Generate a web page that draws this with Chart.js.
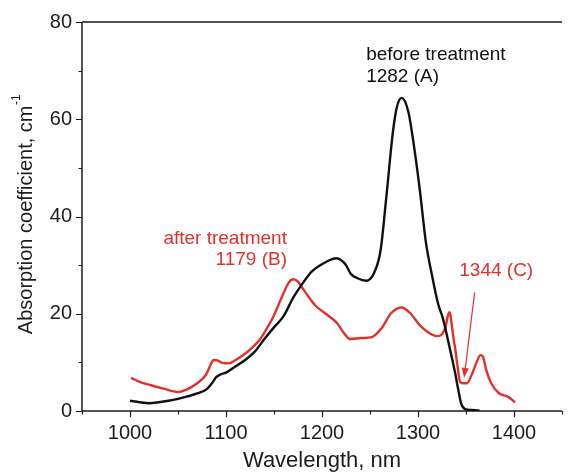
<!DOCTYPE html>
<html>
<head>
<meta charset="utf-8">
<script src="https://cdn.jsdelivr.net/npm/chart.js@4.4.0/dist/chart.umd.min.js"></script>
<style>
  html, body { margin: 0; padding: 0; background: #fff; }
  #wrap { width: 572px; height: 474px; }
</style>
</head>
<body>
<div id="wrap"><canvas id="spectra" width="572" height="474"></canvas></div>
<script>
// absorption spectra, wavelength in nm / coefficient in cm-1
const beforeNm = [1000, 1010, 1020, 1030, 1040, 1050, 1060, 1070, 1080, 1085, 1090, 1095, 1100, 1110, 1120, 1130, 1140, 1150, 1160, 1170, 1180, 1190, 1200, 1210, 1215, 1220, 1225, 1230, 1237, 1246, 1254, 1261, 1267, 1274, 1278, 1283, 1290, 1295, 1302, 1308, 1315, 1321, 1326, 1333, 1339, 1342, 1345, 1349, 1356, 1364];
const beforeVal = [2.1, 1.8, 1.6, 1.8, 2.1, 2.5, 3.0, 3.6, 4.5, 5.6, 7.0, 7.6, 7.9, 9.2, 10.5, 12.2, 14.8, 17.2, 19.5, 23.3, 26.3, 28.8, 30.2, 31.2, 31.4, 31.0, 30.0, 28.2, 27.3, 26.8, 28.3, 33.0, 44.0, 57.6, 62.5, 64.4, 61.5, 55.6, 45.3, 35.0, 27.5, 22.0, 19.0, 13.0, 7.5, 4.3, 1.5, 0.4, 0.2, 0.1];

const afterNm = [1001, 1010, 1022, 1035, 1050, 1060, 1070, 1079, 1084, 1087, 1091, 1096, 1103, 1110, 1118, 1127, 1135, 1142, 1149, 1159, 1165, 1170, 1175, 1180, 1186, 1193, 1206, 1216, 1223, 1229, 1241, 1252, 1262, 1272, 1283, 1292, 1302, 1312, 1320, 1325, 1329, 1331, 1333, 1335, 1337, 1339, 1341, 1344, 1348, 1351, 1356, 1361, 1365, 1368, 1371, 1376, 1384, 1394, 1401];
const afterVal = [6.8, 6.0, 5.3, 4.6, 3.9, 4.5, 5.7, 7.4, 9.5, 10.5, 10.4, 9.9, 9.8, 10.5, 11.5, 13.0, 14.6, 16.8, 19.3, 23.8, 26.3, 27.1, 26.6, 25.2, 23.5, 21.7, 19.7, 18.0, 16.0, 14.8, 15.0, 15.2, 17.0, 20.1, 21.3, 20.1, 17.6, 16.0, 15.4, 15.8, 17.5, 19.5, 20.3, 18.0, 15.0, 12.5, 9.5, 5.9, 5.7, 5.7, 7.5, 10.0, 11.5, 11.0, 8.5, 5.8, 3.7, 2.9, 1.8];

const xRange = [950, 1450];
const yRange = [0, 80];

// labels placed in data units
const notes = [
    { text: 'before treatment', x: 1246, y: 73.2, align: 'left', color: 'black' },
    { text: '1282 (A)', x: 1246, y: 68.7, align: 'left', color: 'black' },
    { text: 'after treatment', x: 1163.5, y: 35.5, align: 'right', color: 'red' },
    { text: '1179 (B)', x: 1163.5, y: 31.0, align: 'right', color: 'red' },
    { text: '1344 (C)', x: 1343, y: 28.9, align: 'left', color: 'red' }
];
const arrowC = { from: [1359, 24.4], to: [1348, 6.8] };

const COLORS = { black: '#111111', red: '#e5302a', text: '#1c1c1c' };
const FONT = "'Liberation Sans', Arial, Helvetica, sans-serif";

function toPoints(xs, ys) {
    return xs.map((x, i) => ({ x: x, y: ys[i] }));
}

const axesPlugin = {
    id: 'axesPlugin',
    beforeDatasetsDraw(chart) {
        const { ctx, chartArea: a, scales } = chart;
        ctx.save();
        ctx.strokeStyle = COLORS.text;
        ctx.lineWidth = 1.5;
        ctx.beginPath();
        ctx.moveTo(a.left, a.top);
        ctx.lineTo(a.left, a.bottom);
        ctx.lineTo(a.right, a.bottom);
        ctx.moveTo(a.left, a.top);
        ctx.lineTo(a.right, a.top);
        ctx.stroke();

        ctx.lineWidth = 1.2;
        ctx.beginPath();
        scales.x.ticks.forEach(t => {
            const px = Math.round(scales.x.getPixelForValue(t.value)) + 0.5;
            const len = t.value % 100 === 0 ? 6 : 3.5;
            ctx.moveTo(px, a.bottom);
            ctx.lineTo(px, a.bottom + len);
        });
        scales.y.ticks.forEach(t => {
            const py = Math.round(scales.y.getPixelForValue(t.value)) + 0.5;
            const len = t.value % 20 === 0 ? 6 : 3.5;
            ctx.moveTo(a.left, py);
            ctx.lineTo(a.left - len, py);
        });
        ctx.stroke();

        // y axis title with superscript unit
        const main = 'Absorption coefficient, cm';
        const sup = '-1';
        ctx.fillStyle = COLORS.text;
        ctx.font = '20px ' + FONT;
        const w1 = ctx.measureText(main).width;
        ctx.font = '12px ' + FONT;
        const w2 = ctx.measureText(sup).width;
        ctx.translate(26, (a.top + a.bottom) / 2 - 2);
        ctx.rotate(-Math.PI / 2);
        ctx.textBaseline = 'middle';
        ctx.textAlign = 'left';
        const start = -(w1 + w2) / 2;
        ctx.font = '20px ' + FONT;
        ctx.fillText(main, start, 0);
        ctx.font = '12px ' + FONT;
        ctx.fillText(sup, start + w1 + 0.5, -9);
        ctx.restore();
    },
    afterDatasetsDraw(chart) {
        const { ctx, scales } = chart;
        ctx.save();
        ctx.font = '19px ' + FONT;
        ctx.textBaseline = 'middle';
        notes.forEach(n => {
            ctx.fillStyle = COLORS[n.color];
            ctx.textAlign = n.align;
            ctx.fillText(n.text, scales.x.getPixelForValue(n.x), scales.y.getPixelForValue(n.y));
        });

        // arrow pointing at band C
        const x1 = scales.x.getPixelForValue(arrowC.from[0]);
        const y1 = scales.y.getPixelForValue(arrowC.from[1]);
        const x2 = scales.x.getPixelForValue(arrowC.to[0]);
        const y2 = scales.y.getPixelForValue(arrowC.to[1]);
        const ang = Math.atan2(y2 - y1, x2 - x1);
        const head = 10, half = 3.5;
        ctx.strokeStyle = COLORS.red;
        ctx.fillStyle = COLORS.red;
        ctx.lineWidth = 1.2;
        ctx.beginPath();
        ctx.moveTo(x1, y1);
        ctx.lineTo(x2 - Math.cos(ang) * head, y2 - Math.sin(ang) * head);
        ctx.stroke();
        ctx.beginPath();
        ctx.moveTo(x2, y2);
        ctx.lineTo(x2 - Math.cos(ang) * head - Math.sin(ang) * half, y2 - Math.sin(ang) * head + Math.cos(ang) * half);
        ctx.lineTo(x2 - Math.cos(ang) * head + Math.sin(ang) * half, y2 - Math.sin(ang) * head - Math.cos(ang) * half);
        ctx.closePath();
        ctx.fill();
        ctx.restore();
    }
};

new Chart(document.getElementById('spectra'), {
    type: 'line',
    data: {
        datasets: [
            {
                label: 'before treatment',
                data: toPoints(beforeNm, beforeVal),
                borderColor: COLORS.black,
                borderWidth: 2.4,
                pointRadius: 0,
                cubicInterpolationMode: 'monotone'
            },
            {
                label: 'after treatment',
                data: toPoints(afterNm, afterVal),
                borderColor: COLORS.red,
                borderWidth: 2.4,
                pointRadius: 0,
                cubicInterpolationMode: 'monotone'
            }
        ]
    },
    options: {
        responsive: false,
        animation: false,
        devicePixelRatio: 1,
        layout: { padding: { top: 21, right: 0, left: 0, bottom: 0 } },
        plugins: { legend: { display: false }, tooltip: { enabled: false } },
        scales: {
            x: {
                type: 'linear',
                min: xRange[0],
                max: xRange[1],
                afterFit(scale) { scale.height = 63; },
                grid: { display: true, drawOnChartArea: false, drawTicks: false },
                border: { display: false },
                ticks: {
                    stepSize: 50,
                    padding: 10,
                    maxRotation: 0,
                    autoSkip: false,
                    color: COLORS.text,
                    font: { family: FONT, size: 20 },
                    callback: v => (v % 100 === 0 ? String(v) : '')
                },
                title: {
                    display: true,
                    text: 'Wavelength, nm',
                    color: COLORS.text,
                    font: { family: FONT, size: 22 },
                    padding: { top: 0, bottom: 0 }
                }
            },
            y: {
                min: yRange[0],
                max: yRange[1],
                afterFit(scale) { scale.width = 82; },
                grid: { display: true, drawOnChartArea: false, drawTicks: false },
                border: { display: false },
                ticks: {
                    stepSize: 10,
                    padding: 10,
                    autoSkip: false,
                    color: COLORS.text,
                    font: { family: FONT, size: 20 },
                    callback: v => (v % 20 === 0 ? String(v) : '')
                }
            }
        }
    },
    plugins: [axesPlugin]
});
</script>
</body>
</html>
